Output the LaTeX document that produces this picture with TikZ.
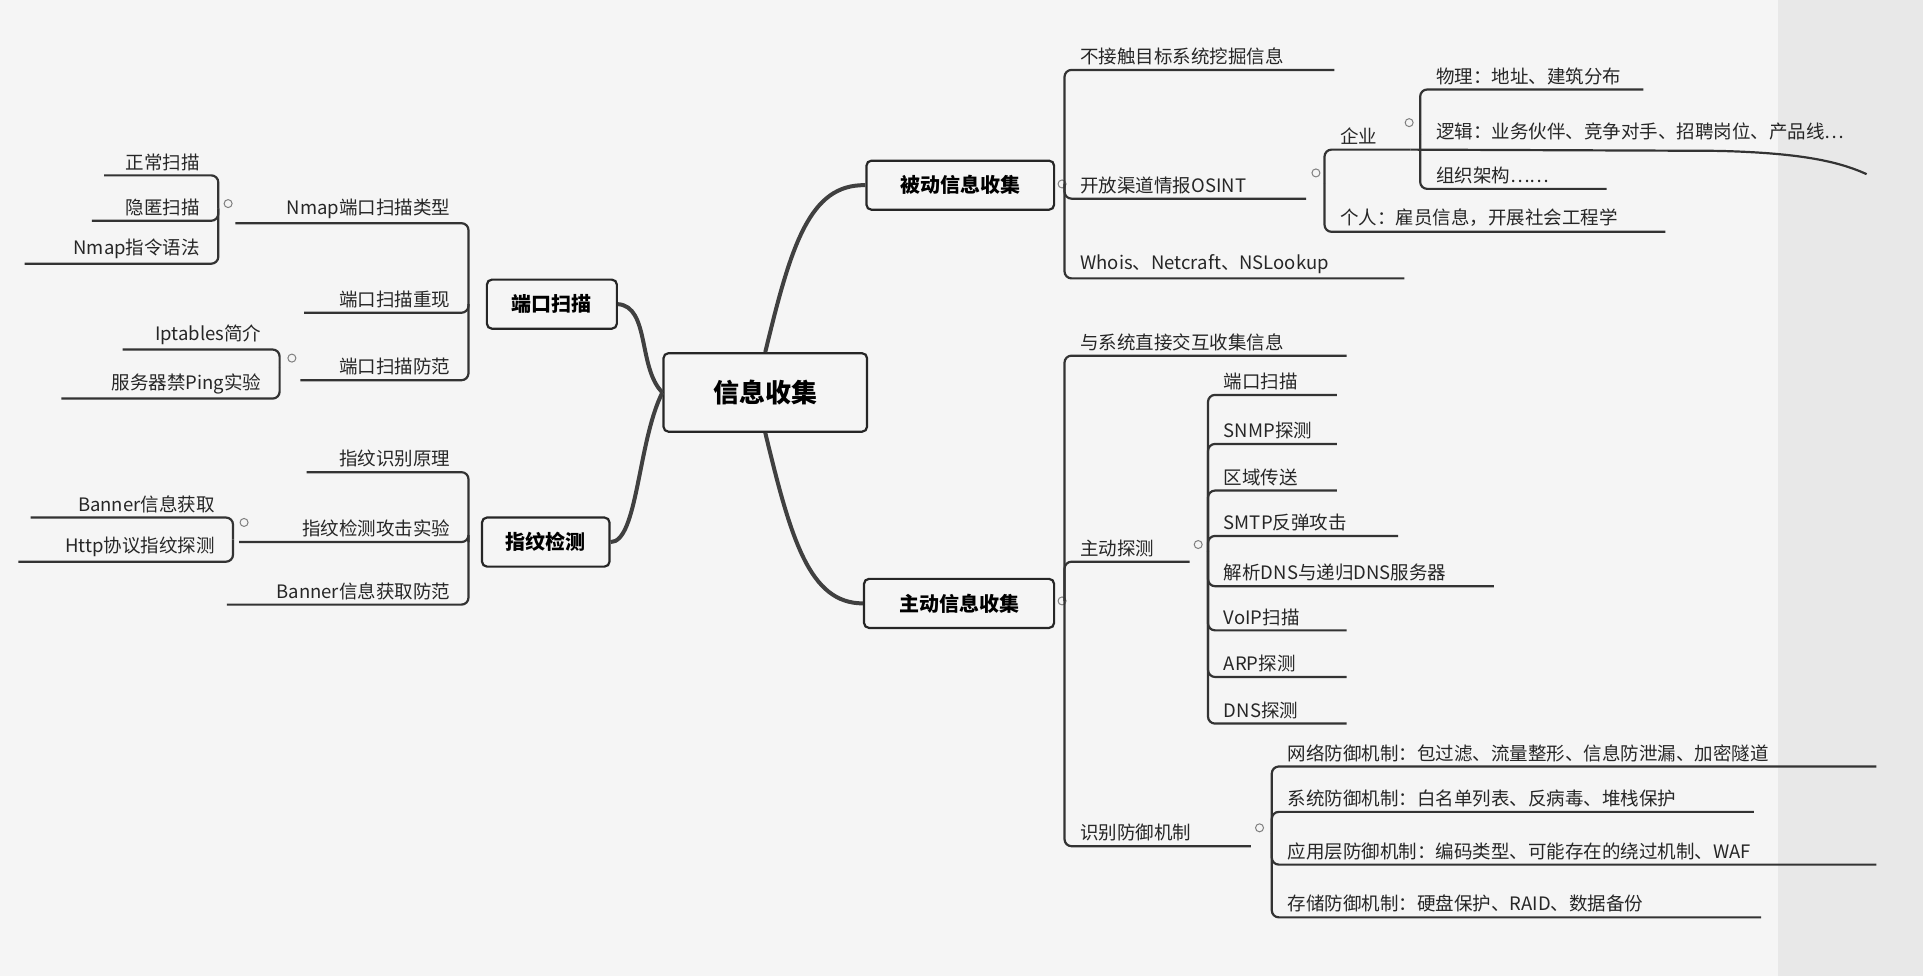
\documentclass[tikz,border=0pt]{standalone}
\usepackage{fontspec}
\setmainfont{Noto Sans CJK SC}
\begin{document}
\begin{tikzpicture}[x=1.2264pt,y=-1.2264pt,
  br/.style={draw=black!80,line width=2.2pt,rounded corners=7pt},
  tx/.style={inner sep=1pt,text=black!85,font=\fontsize{18.5}{22}\selectfont},
  l1/.style={draw=black!85,line width=2.2pt,rounded corners=5pt,fill=black!4,font=\fontsize{20}{24}\selectfont\bfseries,minimum height=40*1.2264pt,inner xsep=10pt},
  main/.style={line width=4pt,draw=black!75},
  dot/.style={draw=black!50,line width=1pt,circle,inner sep=0pt,minimum size=8pt}]
\fill[black!9] (0,0) rectangle (1568,796);
\fill[black!4] (0,0) rectangle (1450,796);
% center and level 1
\node[l1,minimum width=166*1.2264pt,minimum height=64*1.2264pt,font=\fontsize{26}{30}\selectfont\bfseries] (c) at (624,320) {信息收集};
\node[l1,minimum width=153*1.2264pt] (p) at (783,151) {被动信息收集};
\node[l1,minimum width=155*1.2264pt] (a) at (782,492) {主动信息收集};
\node[l1,minimum width=106*1.2264pt] (k) at (450,248) {端口扫描};
\node[l1,minimum width=104*1.2264pt] (z) at (445,442) {指纹检测};
\draw[main] (c.north) .. controls (645,200) and (660,150) .. (p.west);
\draw[main] (c.south) .. controls (645,440) and (660,492) .. (a.west);
\draw[main] (c.west) .. controls (520,300) and (530,250) .. (k.east);
\draw[main] (c.west) .. controls (520,360) and (520,442) .. (z.east);
\newcommand\Rb[6]{\draw[br] (#1,#2) -- (#1,#3) -- (#4,#3); \node[tx,anchor=south west] (#6) at (#1+12,#3-3) {#5};}
\newcommand\Lb[6]{\draw[br] (#1,#2) -- (#1,#3) -- (#4,#3); \node[tx,anchor=south east] (#6) at (#1-14,#3-3) {#5};}
% passive
\node[dot] (pd) at (866,150) {};
\Rb{868}{150}{57}{1088}{不接触目标系统挖掘信息}{p1}
\Rb{868}{150}{162}{1065}{开放渠道情报OSINT}{p2}
\Rb{868}{150}{227}{1145}{Whois、Netcraft、NSLookup}{p3}
\node[dot] (od) at (1073,141) {};
\Rb{1080}{150}{122}{1150}{企业}{o1}
\Rb{1080}{150}{189}{1358}{个人：雇员信息，开展社会工程学}{o2}
\node[dot] (ed) at (1149,100) {};
\Rb{1158}{110}{73}{1340}{物理：地址、建筑分布}{e1}
\draw[br] (1150,122) -- (1400,123) .. controls (1470,125) and (1500,132) .. (1522,142);
\node[tx,anchor=south west] (e2) at (1170,115) {逻辑：业务伙伴、竞争对手、招聘岗位、产品线…};
\Rb{1158}{110}{154}{1310}{组织架构……}{e3}
% active
\node[dot] (ad) at (866,490) {};
\Rb{868}{490}{290}{1098}{与系统直接交互收集信息}{a1}
\Rb{868}{490}{458}{970}{主动探测}{a2}
\Rb{868}{490}{690}{1020}{识别防御机制}{a3}
\node[dot] (td) at (977,444) {};
\Rb{985}{450}{322}{1090}{端口扫描}{t1}
\Rb{985}{450}{362}{1090}{SNMP探测}{t2}
\Rb{985}{450}{400}{1090}{区域传送}{t3}
\Rb{985}{450}{437}{1140}{SMTP反弹攻击}{t4}
\Rb{985}{450}{478}{1218}{解析DNS与递归DNS服务器}{t5}
\Rb{985}{450}{514}{1098}{VoIP扫描}{t6}
\Rb{985}{450}{552}{1098}{ARP探测}{t7}
\Rb{985}{450}{590}{1098}{DNS探测}{t8}
\node[dot] (fd) at (1027,675) {};
\Rb{1037}{680}{625}{1530}{网络防御机制：包过滤、流量整形、信息防泄漏、加密隧道}{f1}
\Rb{1037}{680}{662}{1430}{系统防御机制：白名单列表、反病毒、堆栈保护}{f2}
\Rb{1037}{680}{705}{1530}{应用层防御机制：编码类型、可能存在的绕过机制、WAF}{f3}
\Rb{1037}{680}{748}{1436}{存储防御机制：硬盘保护、RAID、数据备份}{f4}
% left: port scan
\Lb{382}{248}{182}{192}{Nmap端口扫描类型}{k1}
\Lb{382}{248}{255}{248}{端口扫描重现}{k2}
\Lb{382}{248}{310}{245}{端口扫描防范}{k3}
\node[dot] (nd) at (186,166) {};
\Lb{178}{170}{143}{85}{正常扫描}{n1}
\Lb{178}{170}{180}{75}{隐匿扫描}{n2}
\Lb{178}{170}{215}{20}{Nmap指令语法}{n3}
\node[dot] (id) at (238,292) {};
\Lb{228}{300}{285}{100}{Iptables简介}{i1}
\Lb{228}{300}{325}{50}{服务器禁Ping实验}{i2}
% left: fingerprint
\Lb{382}{442}{385}{250}{指纹识别原理}{z1}
\Lb{382}{442}{442}{195}{指纹检测攻击实验}{z2}
\Lb{382}{442}{493}{185}{Banner信息获取防范}{z3}
\node[dot] (bd) at (199,426) {};
\Lb{190}{440}{422}{25}{Banner信息获取}{b1}
\Lb{190}{440}{458}{15}{Http协议指纹探测}{b2}
\end{tikzpicture}
\end{document}
